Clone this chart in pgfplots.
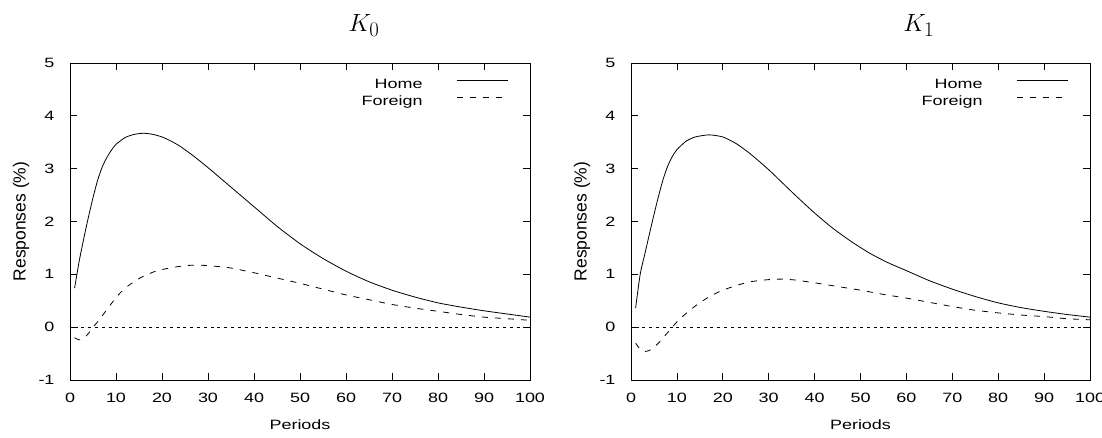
\documentclass[border=0pt]{standalone}
\usepackage{fontspec}
\setmainfont{Liberation Sans}[FakeStretch=1.33]
\newfontfamily\plainsans{Liberation Sans}
\usepackage{pgfplots}
\pgfplotsset{compat=1.18}

\pgfplotsset{
  irf/.style={
    scale only axis,
    width=460pt, height=317pt,
    xmin=0, xmax=100, ymin=-1, ymax=5,
    xtick={0,10,...,100}, ytick={-1,0,...,5},
    tick align=inside,
    major tick length=7pt,
    axis line style={line width=1pt},
    every tick/.style={black, line width=0.8pt},
    /pgf/number format/assume math mode=true,
    tick label style={font=\fontsize{13.5}{15}\selectfont},
    yticklabel style={xshift=-12pt},
    xticklabel style={yshift=-9.5pt},
    xlabel={Periods},
    ylabel={Responses (\%)},
    xlabel style={font=\fontsize{13.5}{15}\selectfont, at={(0.5,-0.142)}, anchor=center},
    ylabel style={font=\plainsans\fontsize{17.5}{19}\selectfont, at={(-0.1065,0.5)}, anchor=center},
    title style={font=\fontsize{30}{34}\selectfont, anchor=base},
    legend plot pos=right,
    legend cell align=right,
    legend style={draw=none, fill=none, inner sep=0pt, outer sep=0pt,
      at={(0.952,0.957)}, anchor=north east, column sep=0pt, row sep=0pt,
      font=\fontsize{13.5}{15}\selectfont,
      nodes={text height=9.5pt, text depth=2.5pt, inner ysep=2.5pt, inner xsep=0pt}},
    legend image code/.code={\path[draw=none] (0pt,4.5pt) -- (85pt,4.5pt);\draw[##1] (34pt,4.5pt) -- (85pt,4.5pt);},
  },
  home/.style={black, line width=0.8pt, smooth, tension=0.4},
  foreign/.style={black, line width=0.8pt, dash pattern=on 6pt off 7pt, smooth, tension=0.4},
  zero/.style={black, line width=0.8pt, dash pattern=on 3pt off 3.8pt, forget plot},
}

\begin{document}
\begin{tikzpicture}
\useasboundingbox (0pt,0pt) rectangle (1102pt,437pt);

\begin{axis}[irf, at={(70pt,57pt)}, anchor=south west,
  title={$K_0$}, title style={at={(0.639,1.081)}}]
\addplot[home] coordinates {
(1,0.74)(2,1.25)(3,1.68)(4,2.08)(5,2.45)(6,2.78)(7,3.03)(8,3.21)(9,3.35)(10,3.46)
(12,3.59)(14,3.65)(16,3.67)(18,3.65)(20,3.6)(22,3.52)(24,3.42)(27,3.23)(30,3.02)
(35,2.65)(40,2.28)(45,1.91)(50,1.58)(55,1.30)(60,1.06)(65,0.86)(70,0.70)(75,0.57)
(80,0.46)(85,0.38)(90,0.31)(95,0.25)(100,0.19)};
\addlegendentry{Home}
\addplot[foreign] coordinates {
(1,-0.2)(2,-0.24)(3,-0.21)(4,-0.12)(5,0.0)(6,0.1)(8,0.33)(10,0.56)(12,0.74)(15,0.92)
(18,1.04)(20,1.09)(23,1.14)(26,1.17)(29,1.17)(32,1.15)(35,1.12)(40,1.03)(45,0.93)
(50,0.83)(55,0.72)(60,0.61)(65,0.52)(70,0.43)(75,0.36)(80,0.30)(85,0.24)(90,0.19)
(95,0.16)(100,0.13)};
\addlegendentry{Foreign}
\addplot[zero] coordinates {(1,0)(100,0)};
\end{axis}

\begin{axis}[irf, at={(631pt,57pt)}, anchor=south west, width=459pt,
  title={$K_1$}, title style={at={(0.627,1.081)}}]
\addplot[home] coordinates {
(1,0.36)(2,1.0)(3,1.38)(4,1.76)(5,2.13)(6,2.48)(7,2.8)(8,3.05)(9,3.23)(10,3.36)
(12,3.52)(14,3.6)(17,3.64)(20,3.6)(23,3.47)(26,3.28)(30,2.98)(33,2.73)(36,2.48)
(40,2.16)(44,1.87)(48,1.62)(52,1.40)(56,1.22)(60,1.07)(65,0.88)(70,0.72)(75,0.58)
(80,0.46)(85,0.37)(90,0.3)(95,0.24)(100,0.19)};
\addlegendentry{Home}
\addplot[foreign] coordinates {
(1,-0.3)(2,-0.42)(3,-0.46)(4,-0.44)(5,-0.38)(6,-0.3)(8,-0.1)(9,0.0)(10,0.1)(12,0.26)
(14,0.4)(16,0.52)(18,0.62)(20,0.7)(23,0.79)(26,0.86)(30,0.9)(33,0.91)(36,0.89)
(40,0.84)(45,0.77)(50,0.7)(55,0.62)(60,0.55)(65,0.47)(70,0.39)(75,0.32)(80,0.27)
(85,0.23)(90,0.2)(95,0.16)(100,0.14)};
\addlegendentry{Foreign}
\addplot[zero] coordinates {(1,0)(100,0)};
\end{axis}
\end{tikzpicture}
\end{document}
